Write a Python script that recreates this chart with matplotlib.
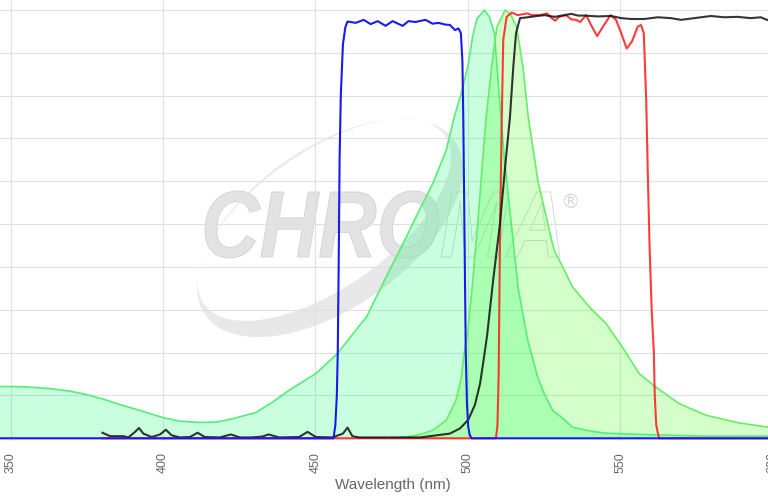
import matplotlib
matplotlib.use("Agg")
import matplotlib.pyplot as plt
from matplotlib.path import Path
from matplotlib.patches import PathPatch
from matplotlib.textpath import TextPath
from matplotlib.font_manager import FontProperties
from matplotlib.transforms import Affine2D
import numpy as np

# ---- data (wavelength nm, % transmission / intensity) ----
ex_wl = [340, 350, 355, 363, 369.5, 375, 381.5, 384.8, 392.4, 400.1, 405.5, 412.1,
         417.6, 423, 430.4, 436, 441.3, 450.1, 457.2, 463.2, 466.7, 473.2, 479.8, 484.1,
         488.5, 490.7, 492.9, 495.5, 498, 500, 501.6, 503, 505.4, 507.0, 508.7,
         510.3, 512.0, 514.1, 516.5, 519.6, 523.0, 525.0, 527.8, 530.6, 534.3, 540,
         545.2, 556.2, 567, 578.0, 590, 610]
ex_val = [12.0, 12.1, 12.0, 11.6, 11.0, 10.2, 8.9, 8.1, 6.5, 4.8, 4.0, 3.7,
          3.8, 4.6, 6.0, 8.5, 11.2, 15.1, 19.8, 25.2, 28.3, 37.7, 47.0, 53.3,
          59.5, 63.4, 67.3, 75, 81, 87, 94, 98, 100, 98.5, 94.6,
          80, 65, 51, 35, 23, 14, 10.5, 6.5, 5.0, 2.6, 1.7,
          1.2, 0.9, 0.7, 0.5, 0.5, 0.5]

em_wl = [475, 479.8, 485, 488.5, 492.9, 496.1, 497.8, 498.8, 500, 501.5, 503.2,
         505.9, 508, 509.5, 512.2, 514, 516, 518, 519.8, 523, 526.7, 528.3, 530,
         534.3, 539.8, 545.3, 550.7, 556.2, 561.6, 569.3, 578, 588.9, 598.5, 610]
em_val = [0, 0.3, 1.0, 1.9, 4.2, 8.9, 14, 20, 25, 36, 50,
          74.3, 88, 96, 100, 99, 96, 87, 75, 60, 48.6, 43.9, 41.6,
          35.4, 30.7, 26.8, 21.3, 15.1, 12.0, 8.1, 5.4, 3.6, 2.6, 2.2]

exf_wl = [340, 455.9, 456.5, 457.0, 457.3, 457.6, 457.9, 458.3, 459.0, 459.8, 460.5,
          463.2, 465.8, 468.1, 470.4, 473.0, 475.3, 478.6, 480.5, 482.8, 486.1,
          488.4, 490.3, 492.6, 494.1, 495.8, 496.9, 497.7, 498.2, 498.5, 499.0,
          499.3, 499.7, 500.1, 500.6, 501.2, 610]
exf_val = [0, 0, 3, 10, 20, 40, 65, 80, 92, 96, 97.3,
           97.0, 97.7, 96.7, 97.4, 96.3, 97.4, 96.3, 97.4, 97.2, 97.7,
           96.8, 97.0, 96.6, 96.5, 95.3, 95.7, 94.6, 88, 74, 40,
           20, 8, 2.7, 0.8, 0, 0]

dic_wl = [380, 509.2, 509.7, 510.1, 510.3, 510.5, 510.9, 511.1, 511.6, 512.7, 514.4,
          516.3, 519.6, 520.8, 523.7, 525.9, 527.5, 528.6, 530.0, 532.2, 533.9,
          535.5, 536.8, 538.8, 540.4, 542.4, 544.3, 546.8, 548.6, 550.3, 552.1,
          553.8, 555.7, 556.8, 557.7, 558.1, 558.5, 559.0, 559.6, 560.3, 561.0,
          561.3, 561.8, 562.7, 610]
dic_val = [0, 0, 3, 15, 30, 45, 65, 74, 93, 98.4, 99.4,
           98.8, 99.2, 98.8, 98.8, 99.2, 98.1, 97.5, 98.4, 98.8, 97.8,
           97.7, 97.2, 98.8, 96.5, 93.9, 96.1, 98.8, 97.7, 94.6, 91.0,
           92.6, 96.1, 96.5, 94.6, 86.8, 79.0, 62.6, 45, 30, 20,
           10, 3, 0, 0]

emf_wl = [380.1, 382.6, 387.0, 388.6, 390.8, 392.1, 393.5, 396.3, 399.0, 400.9,
          402.8, 405.5, 408.8, 411.3, 413.7, 418.6, 422.2, 425.2, 429, 432.5,
          434.6, 438.1, 444.6, 447.4, 450.1, 455.5, 459.0, 460.5, 462.1, 464.3,
          475, 484.3, 494.1, 497.4, 500.1, 502.3, 504.0, 505.3, 506.3, 508.3,
          510.5, 512.3, 513.8, 514.9, 515.8, 517.1, 519.6, 522.6, 525.2, 528.4,
          531.7, 533.9, 536.1, 538.2, 542.6, 547.0, 550.3, 553.6, 557.9, 562.3,
          566.6, 569.9, 574.3, 579.7, 584.1, 588.5, 592.8, 596.1, 598.1, 610]
emf_val = [1.3, 0.5, 0.5, 0.2, 1.5, 2.4, 1.1, 0.3, 0.9, 2.0,
           0.7, 0.2, 0.3, 1.3, 0.3, 0.2, 0.9, 0.2, 0.2, 0.4,
           0.9, 0.2, 0.3, 1.5, 0.3, 0.2, 1.1, 2.5, 0.5, 0.2,
           0.2, 0.2, 1.1, 2.3, 4.3, 7.8, 12.8, 19.0, 24, 37,
           50, 64, 75, 86.8, 94.6, 98.1, 98.3, 98.6, 98.8, 98.4,
           98.8, 99.1, 98.7, 98.7, 98.5, 98.6, 98.1, 97.9, 97.9, 98.3,
           98.1, 97.7, 98.1, 98.6, 98.3, 98.4, 98.1, 98.3, 97.7, 97.7]

xticks = [350, 400, 450, 500, 550, 600]

# ---- layout (pixel calibration of the reference) ----
W, H = 768, 500
px_nm = 3.048
x0_nm = 346.49
y_zero, px_pct = 438.3, 4.283
ylo, yhi = -0.6, 102
bot_px = y_zero - ylo * px_pct
top_px = y_zero - yhi * px_pct
ax_w = 800   # axes run past the right edge so the 600 label is cut like the original

fig = plt.figure(figsize=(W / 100, H / 100), dpi=100)
ax = fig.add_axes([0, (H - bot_px) / H, ax_w / W, (bot_px - top_px) / H])
ax.set_xlim(x0_nm, x0_nm + ax_w / px_nm)
ax.set_ylim(ylo, yhi)
for s in ax.spines.values():
    s.set_visible(False)
ax.set_xticks(xticks)
ax.set_yticks(range(0, 101, 10))
ax.tick_params(axis='y', left=False, labelleft=False)
ax.tick_params(axis='x', length=0, pad=8, labelsize=9, labelcolor='#666666',
               labelrotation=90)
for lab in ax.get_xticklabels():
    lab.set_family('Liberation Sans')
ax.set_axisbelow(True)
ax.grid(True, color='#e0e0e0', lw=0.8)

# ---- watermark logo ----
pix = Affine2D().scale(1 / W, 1 / H) + fig.transFigure
fp = FontProperties(family='Liberation Sans', weight='bold', style='italic')
full = TextPath((0, 0), "CHROMA", size=89, prop=fp)
part = TextPath((0, 0), "CHRO", size=89, prop=fp)
ext = full.get_extents()
sx, sy = 355 / ext.width, 67 / ext.height
logo_t = Affine2D().translate(-ext.x0, -ext.y0).scale(sx, sy).translate(205, H - 258) + pix
ax.add_artist(PathPatch(part, transform=logo_t, facecolor='#e3e3e3', edgecolor='none',
                        zorder=0.2, clip_on=False))
ax.add_artist(PathPatch(full, transform=logo_t, facecolor='none', edgecolor='#d2d2d2',
                        lw=0.6, zorder=0.2, clip_on=False))
fig.text(570 / W, 1 - 202 / H, '\u00ae', fontsize=14, color='#dadada',
         ha='center', va='center', zorder=0.2)

# swoosh: crescent between two tilted ellipses
cx, cy, a, b, ang = 330, H - 228, 152, 80, np.radians(35)
u = np.array([np.cos(ang), np.sin(ang)])
v = np.array([-np.sin(ang), np.cos(ang)])
t = np.linspace(0, 2 * np.pi, 200)
outer = np.array([cx, cy]) + np.outer(a * np.cos(t), u) + np.outer(b * np.sin(t), v)
c2 = np.array([cx, cy]) + 10 * v
inner = c2 + np.outer((a - 5) * np.cos(t), u) + np.outer((b - 12) * np.sin(t), v)
inner = inner[::-1]
verts = np.vstack([outer, inner])
codes = ([Path.MOVETO] + [Path.LINETO] * (len(outer) - 1)
         + [Path.MOVETO] + [Path.LINETO] * (len(inner) - 1))
ax.add_artist(PathPatch(Path(verts, codes), transform=pix, facecolor='#e8e8e8',
                        edgecolor='none', zorder=0.15, clip_on=False))

# ---- spectra ----
ax.fill_between(ex_wl, ex_val, 0, color=(0.0, 1.0, 0.42), alpha=0.21, lw=0, zorder=1)
ax.plot(ex_wl, ex_val, color='#55ee77', lw=1.2, zorder=1.5)
ax.fill_between(em_wl, em_val, 0, color=(0.3, 1.0, 0.15), alpha=0.24, lw=0, zorder=1)
ax.plot(em_wl, em_val, color='#66ee66', lw=1.2, zorder=1.5)

ax.plot(dic_wl, dic_val, color='#ff1a1a', lw=1.5, alpha=0.85, zorder=2)
ax.plot(emf_wl, emf_val, color='#111111', lw=1.5, alpha=0.85, zorder=2.1)
ax.plot(exf_wl, exf_val, color='#1a1aee', lw=1.5, zorder=2.2)

ax.set_xlabel('Wavelength (nm)', fontsize=11, color='#666666', family='Liberation Sans')
ax.xaxis.set_label_coords(392.5 / ax_w, -(476 - bot_px) / (bot_px - top_px) - 0.005)

fig.savefig('out.png', dpi=100)
